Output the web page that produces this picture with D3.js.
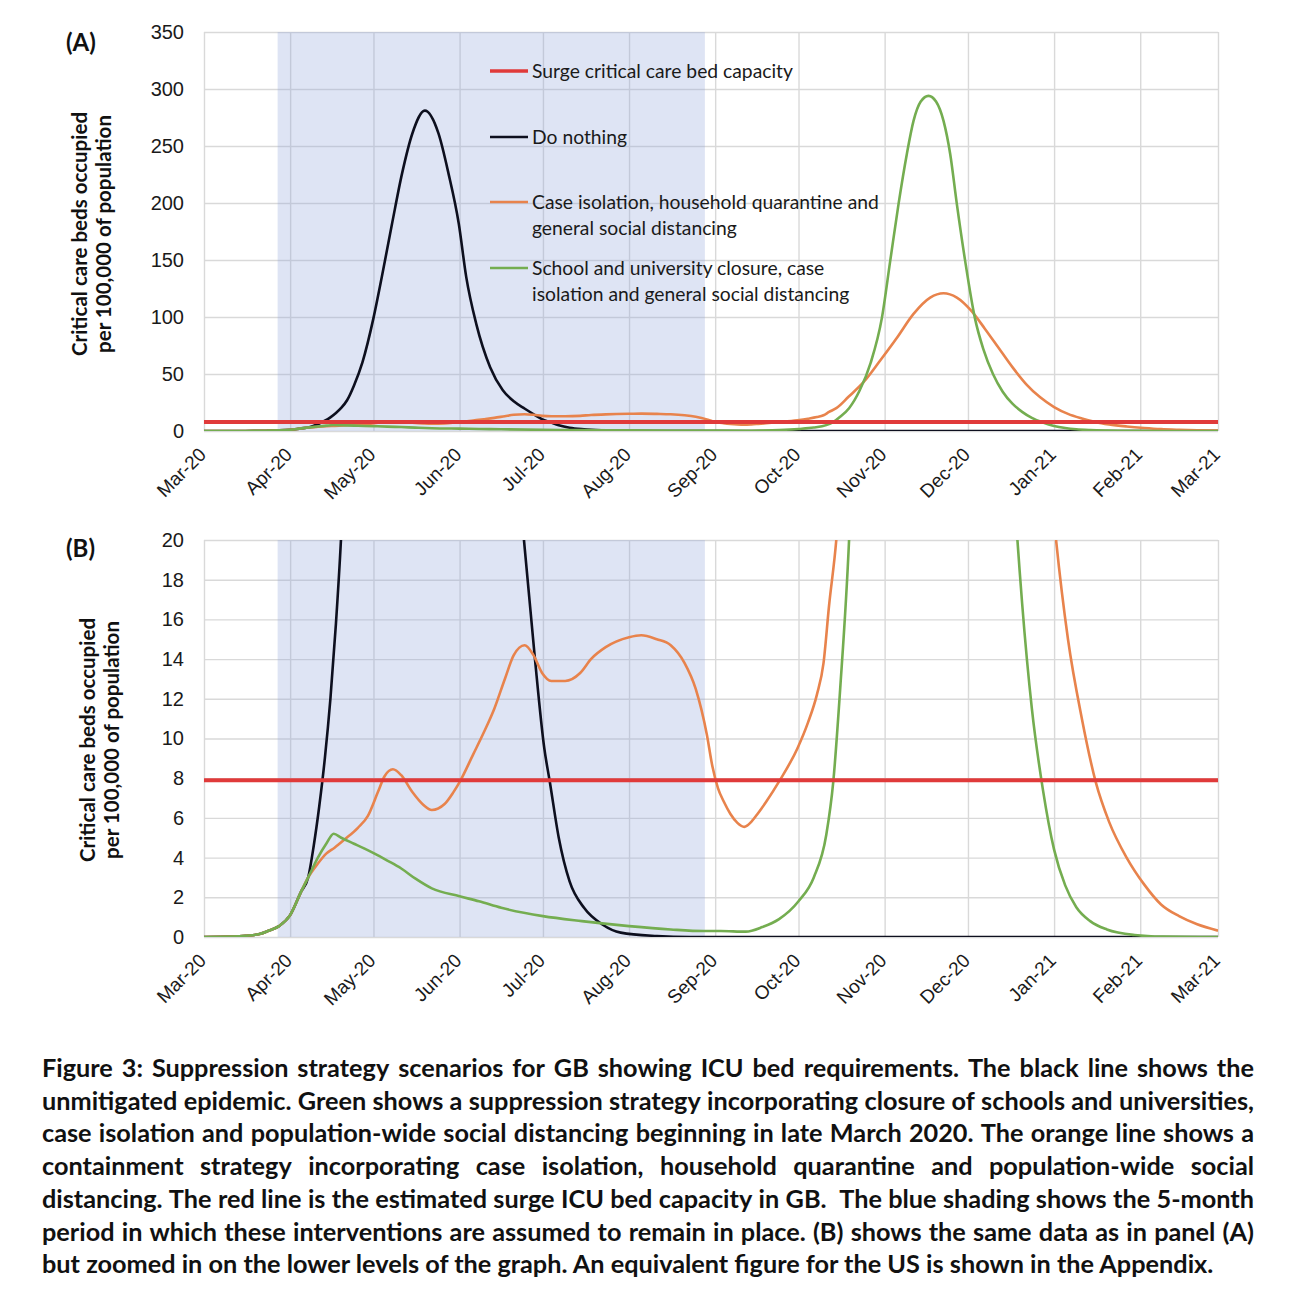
<!DOCTYPE html>
<html>
<head>
<meta charset="utf-8">
<style>
  body { margin: 0; background: #fff; }
  svg { font-family: Lato, "Open Sans", sans-serif; }
  .grid line { stroke: #d9d9d9; stroke-width: 1.4; }
  .grid path { display: none; }
  .tick text { fill: #1a1a1a; }
  .series { fill: none; stroke-width: 2.6; stroke-linejoin: round; }
</style>
</head>
<body>
<svg width="1290" height="1308"></svg>
<script src="https://cdn.jsdelivr.net/npm/d3@7"></script>
<script>
// days since 1 Mar 2020, value = critical care beds per 100,000
const doNothing = [
  [0,0],[10,0.02],[15,0.06],[20,0.15],[23,0.3],[27,0.55],[31,1.1],[35,2.3],[37.5,3.0],
  [39.5,4.6],[41.5,6.6],[43.5,9.0],[45.5,12.0],[47.5,15.8],[49.3,20],[51.5,27],[54,40],
  [57,60],[61,99],[64,135],[67.7,182],[71.3,226],[75,261],[79.5,281],[84.4,261],[88,226],
  [91.7,182],[94.4,135],[98,94],[103,56],[107.5,36],[111.5,26],[115.5,19.5],[119,14.2],
  [122.5,9.5],[124.5,7.8],[127.7,5],[131.6,2.8],[136.8,1.47],[143.4,0.63],[150,0.22],
  [163,0.05],[175,0],[365,0]
];
const caseIsolation = [
  [0,0],[10,0.02],[15,0.06],[20,0.15],[23,0.3],[27,0.55],[31,1.1],[35,2.3],[37.5,3.0],
  [41,3.7],[44,4.2],[47,4.5],[50.5,4.9],[55.4,5.5],[59,6.1],[62.6,7.3],[65,8.1],[68,8.45],
  [71,8.15],[75,7.3],[79,6.65],[82,6.4],[86.6,6.7],[89.8,7.3],[92,7.8],[96.9,9.2],
  [100.7,10.3],[104.5,11.5],[108.3,13],[111.5,14.2],[115.4,14.7],[118.6,14.2],[121.7,13.3],
  [125,12.9],[130,12.9],[135.4,13.3],[139.3,14.0],[144.6,14.6],[153,15.1],[157.4,15.2],
  [163,15.0],[168,14.7],[173,13.8],[177,12.5],[181,10.2],[183,8.6],[185,7.5],[187,6.85],
  [189.5,6.2],[192,5.75],[194.5,5.55],[197,5.8],[199.5,6.25],[202.3,6.8],[207.3,7.9],
  [213.6,9.5],[217.4,10.8],[220.6,12.2],[223,13.8],[225,16.7],[227.6,20],[232,30],
  [237.4,42.8],[243.4,61.8],[249.5,82],[255.4,102.7],[261.4,117],[266.2,120.8],[271,117],
  [276,106],[281,90],[286,73],[291,56],[296,41],[301,29.5],[306,21],[311,15],[316,11],
  [321,7.8],[325.8,5.8],[332.1,4.0],[338.4,2.65],[344.5,1.64],[351,1.05],[357.5,0.64],
  [365,0.32]
];
const schoolClosure = [
  [0,0],[10,0.02],[15,0.06],[20,0.15],[23,0.3],[27,0.55],[31,1.1],[35,2.3],[37.5,3.0],
  [41,4.0],[44,4.7],[46.7,5.2],[49.4,5.0],[54,4.7],[57.8,4.45],[61.4,4.2],[66,3.85],
  [71,3.45],[76,2.95],[82,2.45],[92,2.05],[99,1.8],[107,1.47],[122,1.05],[136,0.8],
  [153,0.55],[168,0.38],[180,0.3],[186,0.3],[195,0.27],[201,0.5],[207,0.9],[214,1.8],
  [219.5,3.0],[224,5.15],[226.5,7.8],[229,12.5],[232.2,20],[236,35.5],[240,60],[244,99],
  [247,149],[250,199],[253,243],[255.4,272],[258,289],[260.8,294],[263.5,289],[266.2,272],
  [268.6,243],[271,199],[274,149],[277.5,99],[280.5,72],[284,50],[287.5,34.5],[291,24],
  [294.5,16.8],[298,11.5],[302,7.4],[306,4.4],[310,2.6],[314,1.5],[319,0.8],[325,0.38],
  [335,0.1],[345,0.02],[365,0]
];
const surgeCapacity = 7.9;
const shading = [26.5, 180.3];

const legendLabels = [
  ["Surge critical care bed capacity"],
  ["Do nothing"],
  ["Case isolation, household quarantine and", "general social distancing"],
  ["School and university closure, case", "isolation and general social distancing"]
];
const captionLines = [
  "Figure 3: Suppression strategy scenarios for GB showing ICU bed requirements. The black line shows the",
  "unmitigated epidemic. Green shows a suppression strategy incorporating closure of schools and universities,",
  "case isolation and population-wide social distancing beginning in late March 2020. The orange line shows a",
  "containment strategy incorporating case isolation, household quarantine and population-wide social",
  "distancing. The red line is the estimated surge ICU bed capacity in GB.  The blue shading shows the 5-month",
  "period in which these interventions are assumed to remain in place. (B) shows the same data as in panel (A)",
  "but zoomed in on the lower levels of the graph. An equivalent figure for the US is shown in the Appendix."
];

const colors = { red: "#e03a3a", black: "#0d0f1e", orange: "#e8834c", green: "#74ad50" };

const svg = d3.select("svg");
const X0 = Date.UTC(2020, 2, 1);
const toDate = d => new Date(X0 + d * 864e5);
const left = 204, right = 1218;
const x = d3.scaleUtc().domain([toDate(0), toDate(365)]).range([left, right]);
const fmt = d3.utcFormat("%b-%y");

function panel(top, bottom, yMax, step, tag, titleX, titleY, tagY) {
  const y = d3.scaleLinear().domain([0, yMax]).range([bottom, top]);
  const id = "clip" + tag;
  svg.append("clipPath").attr("id", id)
    .append("rect").attr("x", left).attr("y", top).attr("width", right - left).attr("height", bottom - top);

  // horizontal grid + y labels
  const ya = svg.append("g").attr("class", "grid").attr("transform", `translate(${left},0)`)
    .call(d3.axisLeft(y).tickValues(d3.range(0, yMax + step / 2, step)).tickSize(-(right - left)).tickPadding(20));
  ya.selectAll("text").style("font-size", "20px");

  // vertical grid + x labels
  const xa = svg.append("g").attr("class", "grid").attr("transform", `translate(0,${bottom})`)
    .call(d3.axisBottom(x).ticks(d3.utcMonth.every(1)).tickFormat(fmt).tickSize(-(bottom - top)));
  xa.selectAll("text")
    .attr("x", 0).attr("y", 0).attr("dy", "0.35em")
    .attr("text-anchor", "end")
    .attr("transform", "translate(-2,20) rotate(-45)")
    .style("font-size", "19px");

  // intervention shading over the grid
  svg.append("rect")
    .attr("x", x(toDate(shading[0]))).attr("y", top)
    .attr("width", x(toDate(shading[1])) - x(toDate(shading[0])))
    .attr("height", bottom - top)
    .attr("fill", "rgb(145,165,218)").attr("fill-opacity", 0.3);

  const line = d3.line().x(d => x(toDate(d[0]))).y(d => y(d[1])).curve(d3.curveMonotoneX);
  const g = svg.append("g").attr("clip-path", `url(#${id})`);
  [[doNothing, colors.black], [caseIsolation, colors.orange], [schoolClosure, colors.green]].forEach(([data, c]) => {
    g.append("path").attr("class", "series").attr("d", line(data)).attr("stroke", c);
  });
  g.append("line").attr("x1", left).attr("x2", right)
    .attr("y1", y(surgeCapacity)).attr("y2", y(surgeCapacity))
    .attr("stroke", colors.red).attr("stroke-width", 4);

  // axis title
  const t = svg.append("text").attr("transform", `translate(${titleX},${titleY}) rotate(-90)`)
    .attr("text-anchor", "middle").style("font-weight", "bold").style("font-size", "20.5px").attr("fill", "#111");
  t.append("tspan").attr("x", 0).attr("dy", "0.35em").text("Critical care beds occupied");
  t.append("tspan").attr("x", 0).attr("dy", "1.17em").text("per 100,000 of population");

  svg.append("text").attr("x", 66).attr("y", tagY).text(`(${tag})`)
    .style("font-weight", "bold").style("font-size", "24px").attr("fill", "#111");
}

panel(32, 431, 350, 50, "A", 80, 234, 51);
panel(540, 937, 20, 2, "B", 88, 740, 557);

// legend in panel A
const legendRows = [71, 137, 202, 268];
const legendColors = [colors.red, colors.black, colors.orange, colors.green];
legendLabels.forEach((lines, i) => {
  svg.append("line").attr("x1", 490).attr("x2", 528).attr("y1", legendRows[i]).attr("y2", legendRows[i])
    .attr("stroke", legendColors[i]).attr("stroke-width", i === 0 ? 3.5 : 2.6);
  lines.forEach((s, j) => {
    svg.append("text").attr("x", 532).attr("y", legendRows[i] + j * 26).attr("dy", "0.35em")
      .text(s).style("font-size", "19.3px").attr("fill", "#1a1a1a");
  });
});

// caption, justified
const capLeft = 42, capRight = 1254, capTop = 1077, capStep = 32.7;
const probe = svg.append("text").style("font-weight", "bold").style("font-size", "20px").text(captionLines[6]);
const fs = 20 * 1172 / probe.node().getComputedTextLength();
probe.remove();
captionLines.forEach((s, i) => {
  const yy = capTop + i * capStep;
  if (i === captionLines.length - 1) {
    svg.append("text").attr("x", capLeft).attr("y", yy).text(s)
      .style("font-weight", "bold").style("font-size", fs + "px").attr("fill", "#111");
    return;
  }
  const words = s.split(" ");
  const nodes = words.map(w => svg.append("text").attr("y", yy).text(w)
    .style("font-weight", "bold").style("font-size", fs + "px").attr("fill", "#111"));
  const widths = nodes.map(n => n.node().getComputedTextLength());
  const gap = (capRight - capLeft - d3.sum(widths)) / (words.length - 1);
  let cx = capLeft;
  nodes.forEach((n, k) => { n.attr("x", cx); cx += widths[k] + gap; });
});
</script>
</body>
</html>
